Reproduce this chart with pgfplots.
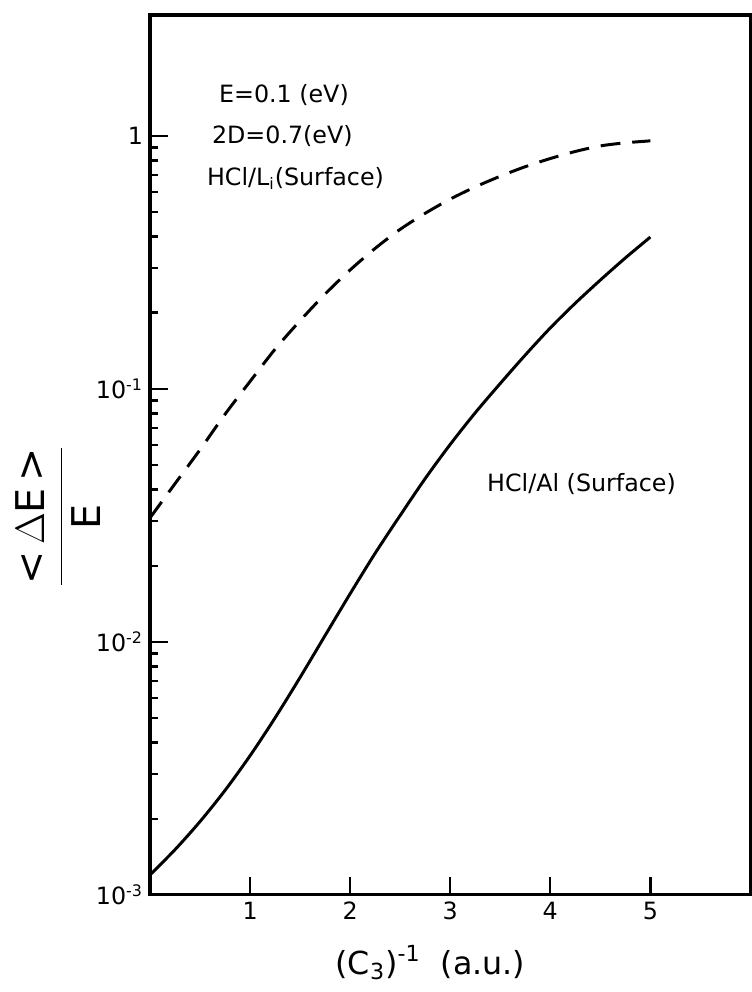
\documentclass[border=0pt]{standalone}
\usepackage{pgfplots}
\pgfplotsset{compat=1.18}
\usepackage{fontspec}
\setmainfont{DejaVu Sans}
\begin{document}
\begin{tikzpicture}
\begin{axis}[
  scale only axis,
  width=303pt, height=444pt,
  ymode=log,
  xmin=0, xmax=6, ymin=1e-3, ymax=3,
  axis line style={line width=1.6pt},
  xtick={1,2,3,4,5},
  xticklabels={1,2,3,4,5},
  ytick={0.001,0.01,0.1,1},
  yticklabels={10\textsuperscript{-3},10\textsuperscript{-2},10\textsuperscript{-1},1},
  tick align=inside,
  xtick pos=bottom, ytick pos=left,
  major tick length=9pt,
  minor tick length=4pt,
  every tick/.style={black, line width=1.2pt},
  minor y tick num=8,
  tick label style={font=\large},
  xlabel={\fontsize{16}{19}\selectfont (C\textsubscript{3})\textsuperscript{-1} \ (a.u.)},
  ylabel={\fontsize{20}{24}\selectfont$\displaystyle\frac{\mbox{<\,$\Delta$E\,>}}{\mbox{E}}$},
  xlabel style={yshift=-6pt, xshift=-10pt},
  ylabel style={at={(ticklabel cs:0.43)}, yshift=-9pt},
  clip=false,
]
\addplot[black, line width=1.5pt, smooth] coordinates {
(0,0.00120) (0.25,0.00151) (0.5,0.00195) (0.75,0.00259) (1.0,0.00355)
(1.25,0.00501) (1.5,0.00724) (1.75,0.0106) (2.0,0.0155) (2.25,0.0224)
(2.5,0.0316) (2.75,0.0442) (3.0,0.0603) (3.25,0.0804) (3.5,0.105)
(3.75,0.136) (4.0,0.174) (4.25,0.218) (4.5,0.269) (4.75,0.329) (5.0,0.398)
};
\addplot[black, line width=1.5pt, smooth, dash pattern=on 10pt off 6pt] coordinates {
(0,0.0309) (0.25,0.0422) (0.5,0.0575) (0.75,0.0794) (1.0,0.107)
(1.25,0.1435) (1.5,0.186) (1.75,0.237) (2.0,0.295) (2.25,0.359)
(2.5,0.427) (2.75,0.494) (3.0,0.562) (3.25,0.628) (3.5,0.692)
(3.75,0.755) (4.0,0.813) (4.25,0.867) (4.5,0.912) (4.75,0.938) (5.0,0.955)
};
\node[anchor=west, font=\large] at (axis cs:0.62,1.45) {E=0.1 (eV)};
\node[anchor=west, font=\large] at (axis cs:0.55,1.0) {2D=0.7(eV)};
\node[anchor=west, font=\large] at (axis cs:0.5,0.68) {HCl/L\textsubscript{i}(Surface)};
\node[anchor=west, font=\large] at (axis cs:3.3,0.042) {HCl/Al (Surface)};
\end{axis}
\pgfresetboundingbox
\path ([shift={(-75.7pt,-49pt)}]current axis.south west) rectangle ([shift={(0.6pt,7.6pt)}]current axis.north east);
\end{tikzpicture}
\end{document}
